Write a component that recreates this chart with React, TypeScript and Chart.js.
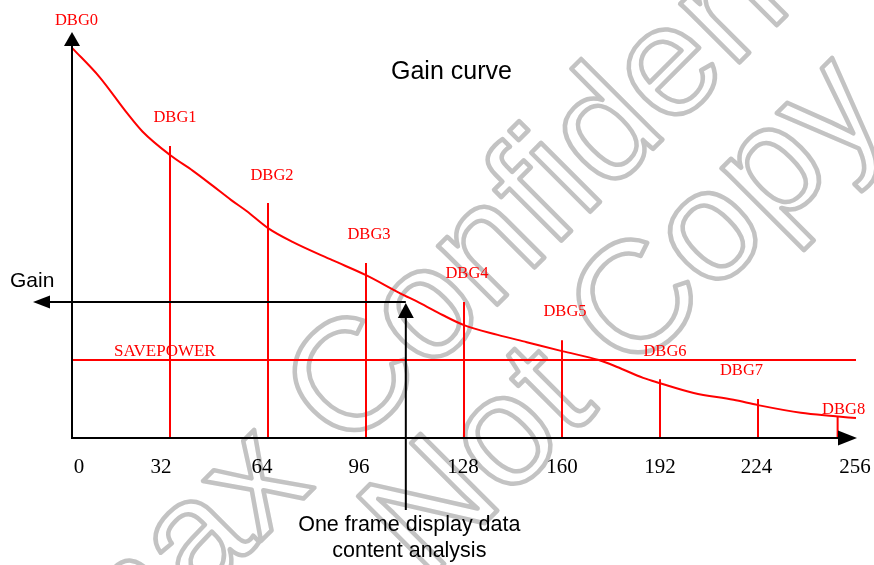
import React, { useEffect, useRef } from 'react';
import { Chart, registerables } from 'chart.js';

Chart.register(...registerables);

// ---- data ----
const curveX = [0, 9, 18, 23, 32, 39.5, 46, 52, 57, 64, 72, 85, 96, 107, 113.5, 121, 128, 139, 148.5, 160, 172, 178, 186.5, 192, 203, 216, 224, 238, 248.5, 256];
const curveY = [96.1, 88.9, 80.0, 75.5, 69.7, 65.8, 62.1, 58.6, 55.9, 51.7, 48.3, 43.8, 40.1, 35.7, 33.3, 30.3, 27.8, 25.4, 23.6, 21.4, 19.2, 17.5, 14.8, 13.5, 11.1, 9.4, 8.1, 6.2, 5.4, 4.9];

const dbgNames = ['DBG0', 'DBG1', 'DBG2', 'DBG3', 'DBG4', 'DBG5', 'DBG6', 'DBG7', 'DBG8'];
const dbgX = [0, 32, 64, 96, 128, 160, 192, 224, 250];
const dbgTop = [96, 71.9, 57.9, 43.1, 33.5, 24.1, 14.5, 9.6, 5.2];

const xTickValues = [0, 32, 64, 96, 128, 160, 192, 224, 256];
const xTickLabels = ['0', '32', '64', '96', '128', '160', '192', '224', '256'];

const savePowerLevel = 19.2;
const savePowerLabel = 'SAVEPOWER';
const frameX = 109;
const gainLevel = 33.5;

const titleText = 'Gain curve';
const yAxisText = 'Gain';
const bottomText = ['One frame display data', 'content analysis'];
const watermarkLines = ['Himax Confidential', 'Do Not Copy'];

// ---- layout / style (pixel offsets only) ----
const tickNudge = [7, -9, -6, -7, -1, 0, 0, -1.5, -1];
const dbgLabelOffset: [number, number][] = [
  [4.5, -23], [5, -24], [4, -23], [3, -24], [3, -24], [3, -24], [5, -23], [-16.5, -24], [6, -3],
];
const RED = '#ff0000';
const SERIF = '"Liberation Serif", "Times New Roman", serif';
const SANS = '"Liberation Sans", Arial, sans-serif';

function arrowHead(ctx: CanvasRenderingContext2D, tx: number, ty: number, dx: number, dy: number, len: number, half: number) {
  const bx = tx - dx * len;
  const by = ty - dy * len;
  const nx = -dy;
  const ny = dx;
  ctx.beginPath();
  ctx.moveTo(tx, ty);
  ctx.lineTo(bx + nx * half, by + ny * half);
  ctx.lineTo(bx - nx * half, by - ny * half);
  ctx.closePath();
  ctx.fill();
}

const diagramPlugin = {
  id: 'diagram',
  beforeDatasetsDraw(chart: any) {
    const ctx: CanvasRenderingContext2D = chart.ctx;
    // watermark
    const fs = 158;
    ctx.save();
    ctx.font = `${fs}px ${SANS}`;
    ctx.strokeStyle = '#c3c3c3';
    ctx.lineWidth = 4.5;
    ctx.lineJoin = 'round';
    ctx.textAlign = 'left';
    ctx.textBaseline = 'alphabetic';
    const ang = (-45 * Math.PI) / 180;
    const cap = fs * 0.358;
    ctx.save();
    ctx.translate(347, 375);
    ctx.rotate(ang);
    const off1 = ctx.measureText('Himax ').width + ctx.measureText('C').width / 2;
    ctx.strokeText(watermarkLines[0], -off1, cap);
    ctx.restore();
    ctx.save();
    ctx.translate(426, 502);
    ctx.rotate(ang);
    const off2 = ctx.measureText('Do ').width + ctx.measureText('N').width / 2;
    ctx.strokeText(watermarkLines[1], -off2, cap);
    ctx.restore();
    ctx.restore();
  },
  afterDatasetsDraw(chart: any) {
    const ctx: CanvasRenderingContext2D = chart.ctx;
    const xs = chart.scales.x;
    const ys = chart.scales.y;
    const X = (v: number) => xs.getPixelForValue(v);
    const Y = (v: number) => ys.getPixelForValue(v);
    const x0 = X(0);
    const y0 = Y(0);
    const area = chart.chartArea;

    ctx.save();
    ctx.fillStyle = '#000';
    ctx.strokeStyle = '#000';
    ctx.lineWidth = 2;
    // y axis
    ctx.beginPath();
    ctx.moveTo(x0, y0 + 1);
    ctx.lineTo(x0, area.top + 12);
    ctx.stroke();
    arrowHead(ctx, x0, area.top, 0, -1, 14, 8);
    // x axis
    ctx.beginPath();
    ctx.moveTo(x0 - 1, y0);
    ctx.lineTo(X(256) - 16, y0);
    ctx.stroke();
    arrowHead(ctx, X(256) + 1, y0, 1, 0, 19, 7.5);

    // gain arrow (horizontal) and frame arrow (vertical)
    const fx = X(frameX);
    const gy = Y(gainLevel);
    ctx.beginPath();
    ctx.moveTo(fx, gy);
    ctx.lineTo(48, gy);
    ctx.stroke();
    arrowHead(ctx, 33, gy, -1, 0, 17, 6.5);
    ctx.beginPath();
    ctx.moveTo(fx, y0 + 72);
    ctx.lineTo(fx, gy + 14);
    ctx.stroke();
    arrowHead(ctx, fx, gy + 1, 0, -1, 15, 8);

    // texts (black)
    ctx.textBaseline = 'alphabetic';
    ctx.font = `25px ${SANS}`;
    ctx.textAlign = 'left';
    ctx.fillText(titleText, 391, 79);
    ctx.font = `21px ${SANS}`;
    ctx.fillText(yAxisText, 10, 287);
    ctx.textAlign = 'center';
    ctx.font = `21.5px ${SANS}`;
    ctx.fillText(bottomText[0], fx + 3.5, 531);
    ctx.fillText(bottomText[1], fx + 3.5, 557);

    // x tick labels
    ctx.font = `21px ${SERIF}`;
    xTickValues.forEach((v, i) => {
      ctx.fillText(xTickLabels[i], X(v) + tickNudge[i], 473);
    });

    // red labels
    ctx.fillStyle = RED;
    ctx.font = `16.5px ${SERIF}`;
    dbgNames.forEach((name, i) => {
      const [dx, dy] = dbgLabelOffset[i];
      ctx.fillText(name, X(dbgX[i]) + dx, Y(dbgTop[i]) + dy);
    });
    ctx.textAlign = 'left';
    ctx.font = `17px ${SERIF}`;
    ctx.fillText(savePowerLabel, x0 + 42, Y(savePowerLevel) - 4);
    ctx.restore();
  },
};

export default function App() {
  const ref = useRef<HTMLCanvasElement | null>(null);
  useEffect(() => {
    if (!ref.current) return;
    const lineStyle = {
      borderColor: RED,
      backgroundColor: RED,
      borderWidth: 2,
      pointRadius: 0,
      fill: false,
      clip: false as any,
    };
    const datasets: any[] = [];
    for (let i = 1; i < dbgX.length; i++) {
      datasets.push({
        ...lineStyle,
        label: dbgNames[i],
        data: [{ x: dbgX[i], y: 0 }, { x: dbgX[i], y: dbgTop[i] }],
        tension: 0,
      });
    }
    datasets.push({
      ...lineStyle,
      label: savePowerLabel,
      data: [{ x: 0, y: savePowerLevel }, { x: 256, y: savePowerLevel }],
      tension: 0,
    });
    datasets.push({
      ...lineStyle,
      label: 'Gain curve',
      data: curveX.map((x, i) => ({ x, y: curveY[i] })),
      cubicInterpolationMode: 'monotone',
    });
    const chart = new Chart(ref.current, {
      type: 'line',
      data: { datasets },
      options: {
        animation: false,
        responsive: true,
        maintainAspectRatio: false,
        layout: { padding: { left: 72, right: 18, top: 32, bottom: 127 } },
        scales: {
          x: { type: 'linear', min: 0, max: 256, display: false },
          y: { type: 'linear', min: 0, max: 100, display: false },
        },
        plugins: { legend: { display: false }, tooltip: { enabled: false } },
        events: [],
      },
      plugins: [diagramPlugin],
    });
    return () => chart.destroy();
  }, []);
  return (
    <div style={{ position: 'fixed', left: 0, top: 0, width: 874, height: 565, background: '#fff' }}>
      <canvas ref={ref} />
    </div>
  );
}
